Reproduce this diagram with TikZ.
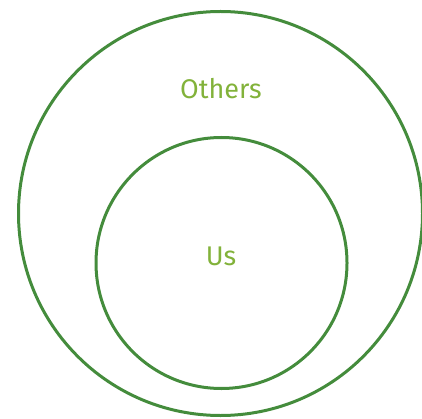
\documentclass[tikz,border=0pt]{standalone}
\usepackage{fontspec}
\setmainfont{Fira Sans}
\definecolor{ringgreen}{RGB}{68,140,60}
\definecolor{labelgreen}{RGB}{130,178,58}

\begin{document}
\begin{tikzpicture}[
  x=1pt, y=-1pt,
  ring/.style={circle, draw=ringgreen, line width=3pt, inner sep=0pt, outer sep=0pt},
  lbl/.style={font=\fontsize{27}{30}\selectfont, text=labelgreen}
]
\useasboundingbox (0,0) rectangle (422,419);
% Rings
\node[ring, minimum size=404pt] (others) at (220.5,213.5) {};
\node[ring, minimum size=251pt] (us) at (221.5,263) {};

% Labels
\node[lbl] (otherslbl) at (221,89) {Others};
\node[lbl] (uslbl) at (221,256) {Us};
\end{tikzpicture}
\end{document}
